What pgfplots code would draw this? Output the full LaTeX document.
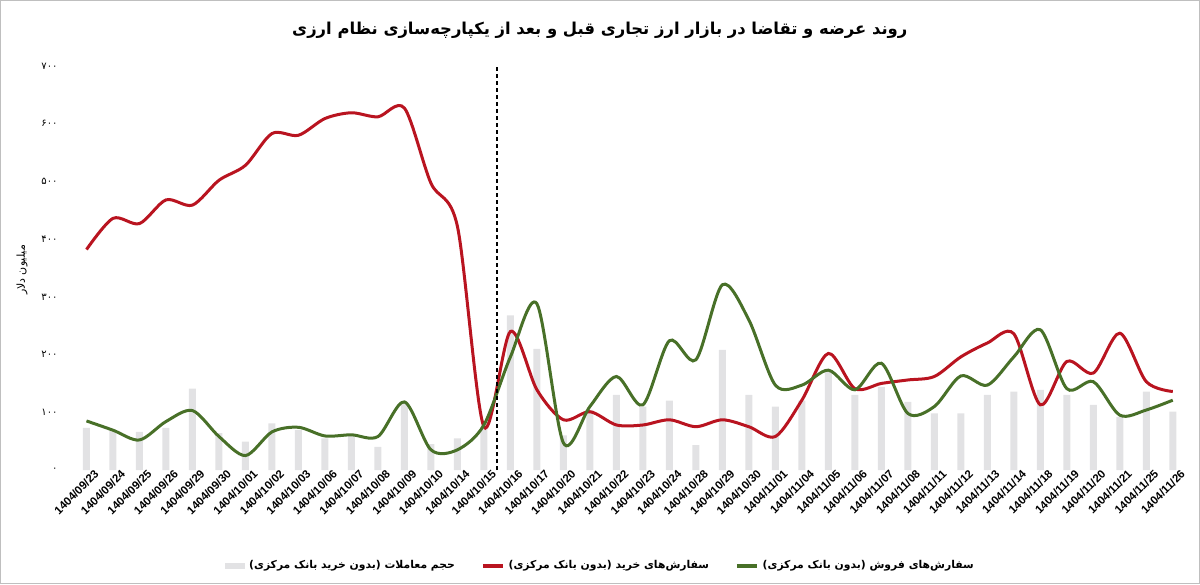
\documentclass[border=0pt]{standalone}
\usepackage{fontspec}
\setmainfont{Liberation Sans}
\newfontfamily\fa[Script=Arabic]{DejaVu Sans}
\TeXXeTstate=1
\usepackage{pgfplots}
\usepackage{pgfplotstable}
\pgfplotsset{compat=1.18}
\definecolor{barc}{RGB}{226,226,228}
\definecolor{buyc}{RGB}{185,20,32}
\definecolor{sellc}{RGB}{72,112,40}

\pgfplotstableread{
i bar buy sell
0 73 382 85
1 69 436 69
2 66 427 52
3 73 468 84
4 141 459 103
5 64 502 58
6 49 528 25
7 81 583 66
8 69 580 74
9 55 609 59
10 60 619 61
11 40 612 58
12 115 627 118
13 45 497 35
14 55 422 35
15 75 75 78
16 268 240 196
17 210 139 288
18 60 87 47
19 104 101 110
20 130 78 162
21 110 78 113
22 120 87 224
23 43 75 191
24 208 87 321
25 130 75 260
26 110 58 147
27 120 121 147
28 170 202 173
29 130 141 139
30 144 150 185
31 118 156 98
32 98 162 110
33 98 196 163
34 130 220 147
35 136 236 196
36 139 113 243
37 130 188 141
38 113 168 153
39 92 237 95
40 136 153 104
41 101 136 121
}\datatable

\begin{document}
\begin{tikzpicture}
\begin{axis}[
  at={(0,0)}, anchor=south west,
  scale only axis, width=567pt, height=202pt,
  xmin=-1, xmax=41.8, ymin=0, ymax=700,
  clip=false,
  axis line style={draw=none},
  major tick length=0pt,
  xtick={0,...,41},
  xticklabels={1404/09/23,1404/09/24,1404/09/25,1404/09/26,1404/09/29,1404/09/30,1404/10/01,1404/10/02,1404/10/03,1404/10/06,1404/10/07,1404/10/08,1404/10/09,1404/10/10,1404/10/14,1404/10/15,1404/10/16,1404/10/17,1404/10/20,1404/10/21,1404/10/22,1404/10/23,1404/10/24,1404/10/28,1404/10/29,1404/10/30,1404/11/01,1404/11/04,1404/11/05,1404/11/06,1404/11/07,1404/11/08,1404/11/11,1404/11/12,1404/11/13,1404/11/14,1404/11/18,1404/11/19,1404/11/20,1404/11/21,1404/11/25,1404/11/26},
  xticklabel style={font=\fontsize{5.7}{6.5}\selectfont\bfseries, rotate=45, anchor=north east, inner sep=0.5pt, xshift=3.5pt, yshift=-1.5pt},
  ytick={0,100,200,300,400,500,600,700},
  yticklabels={۰,۱۰۰,۲۰۰,۳۰۰,۴۰۰,۵۰۰,۶۰۰,۷۰۰},
  yticklabel style={font=\fa\fontsize{5}{6}\selectfont, anchor=east, inner sep=0pt, xshift=-1pt},
  ylabel={\fa\beginR میلیون دلار\endR},
  ylabel style={font=\fontsize{5.5}{6}\selectfont, at={(axis description cs:-0.0335,0.495)}, anchor=center, rotate=0},
  title={\fa\bfseries\beginR روند عرضه و تقاضا در بازار ارز تجاری قبل و بعد از یکپارچه‌سازی نظام ارزی\endR},
  every axis title shift=0pt,
  title style={font=\fontsize{8.2}{10}\selectfont, at={(axis description cs:0.476,1.089)}, anchor=center, yshift=0pt},
  legend columns=3,
  legend cell align=left,
  legend style={draw=none, fill=none, at={(axis description cs:0.4775,-0.2376)}, anchor=center,
    font=\fa\fontsize{5.4}{6.5}\selectfont\bfseries,
    /tikz/every even column/.append style={column sep=11pt}},
]
\addplot[ybar, bar width=3.5pt, fill=barc, draw=none,
  legend image code/.code={\fill[barc] (0pt,-1.6pt) rectangle (10pt,1.6pt);}]
  table[x=i, y=bar] {\datatable};
\addlegendentry{\beginR حجم معاملات (بدون خرید بانک مرکزی)\endR}
\addplot[buyc, line width=1.5pt, smooth,
  legend image code/.code={\draw[buyc, line width=1.8pt] (0pt,0pt) -- (10pt,0pt);}]
  table[x=i, y=buy] {\datatable};
\addlegendentry{\beginR سفارش‌های خرید (بدون بانک مرکزی)\endR}
\addplot[sellc, line width=1.5pt, smooth,
  legend image code/.code={\draw[sellc, line width=1.8pt] (0pt,0pt) -- (10pt,0pt);}]
  table[x=i, y=sell] {\datatable};
\addlegendentry{\beginR سفارش‌های فروش (بدون بانک مرکزی)\endR}
\addplot[black, dash pattern=on 2pt off 1.5pt, line width=0.8pt, forget plot]
  coordinates {(15.5,0) (15.5,700)};
\end{axis}
\pgfresetboundingbox
\path[use as bounding box] (-30pt,-57pt) rectangle (570pt,235pt);
\draw[gray!50, line width=0.6pt] (-29.7pt,-56.7pt) rectangle (569.7pt,234.7pt);
\end{tikzpicture}
\end{document}
